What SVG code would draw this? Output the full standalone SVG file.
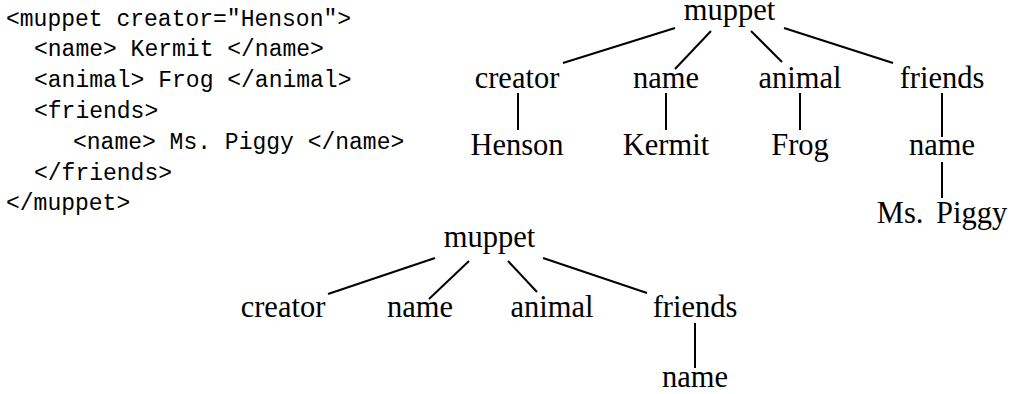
<svg xmlns="http://www.w3.org/2000/svg" width="1010" height="394" viewBox="0 0 1010 394">
<style>
.code{font-family:"Liberation Mono","DejaVu Sans Mono",monospace;font-size:23px;fill:#000;white-space:pre}
.t{font-family:"Liberation Serif","DejaVu Serif",serif;font-size:30.5px;fill:#000;text-anchor:middle}
.e{stroke:#000;stroke-width:2;fill:none;stroke-linecap:butt}
</style>
<rect width="1010" height="394" fill="#fff"/>
<g id="code">
<text class="code" x="6" y="26">&lt;muppet creator="Henson"&gt;</text>
<text class="code" x="34" y="56">&lt;name&gt; Kermit &lt;/name&gt;</text>
<text class="code" x="34" y="87">&lt;animal&gt; Frog &lt;/animal&gt;</text>
<text class="code" x="34" y="118">&lt;friends&gt;</text>
<text class="code" x="73" y="149">&lt;name&gt; Ms. Piggy &lt;/name&gt;</text>
<text class="code" x="34" y="180">&lt;/friends&gt;</text>
<text class="code" x="6" y="210">&lt;/muppet&gt;</text>
</g>
<g id="connectors">
<line class="e" x1="675" y1="28" x2="563" y2="63"/>
<line class="e" x1="711" y1="31" x2="675" y2="69"/>
<line class="e" x1="751" y1="31" x2="782" y2="62"/>
<line class="e" x1="784" y1="28" x2="893" y2="63"/>
<line class="e" x1="518" y1="93" x2="518" y2="130"/>
<line class="e" x1="666" y1="93" x2="666" y2="130"/>
<line class="e" x1="800" y1="93" x2="800" y2="130"/>
<line class="e" x1="942" y1="93" x2="942" y2="137"/>
<line class="e" x1="942" y1="162" x2="942" y2="198"/>
<line class="e" x1="435" y1="258" x2="328" y2="294"/>
<line class="e" x1="469" y1="261" x2="429" y2="299"/>
<line class="e" x1="508" y1="261" x2="537" y2="292"/>
<line class="e" x1="543" y1="258" x2="647" y2="293"/>
<line class="e" x1="695" y1="323" x2="695" y2="368"/>
</g>
<g id="t1-muppet"><text class="t" x="729.5" y="20">muppet</text></g>
<g id="t1-creator"><text class="t" x="517" y="88">creator</text></g>
<g id="t1-name"><text class="t" x="666" y="88">name</text></g>
<g id="t1-animal"><text class="t" x="800" y="88">animal</text></g>
<g id="t1-friends"><text class="t" x="942" y="88">friends</text></g>
<g id="t1-henson"><text class="t" x="517" y="155">Henson</text></g>
<g id="t1-kermit"><text class="t" x="666" y="155">Kermit</text></g>
<g id="t1-frog"><text class="t" x="800" y="155">Frog</text></g>
<g id="t1-name2"><text class="t" x="942" y="155">name</text></g>
<g id="t1-piggy"><text class="t" x="942" y="223" word-spacing="5">Ms. Piggy</text></g>
<g id="t2-muppet"><text class="t" x="489.5" y="247">muppet</text></g>
<g id="t2-creator"><text class="t" x="283" y="317">creator</text></g>
<g id="t2-name"><text class="t" x="420" y="317">name</text></g>
<g id="t2-animal"><text class="t" x="552" y="317">animal</text></g>
<g id="t2-friends"><text class="t" x="695" y="317">friends</text></g>
<g id="t2-name2"><text class="t" x="695" y="387">name</text></g>
</svg>
